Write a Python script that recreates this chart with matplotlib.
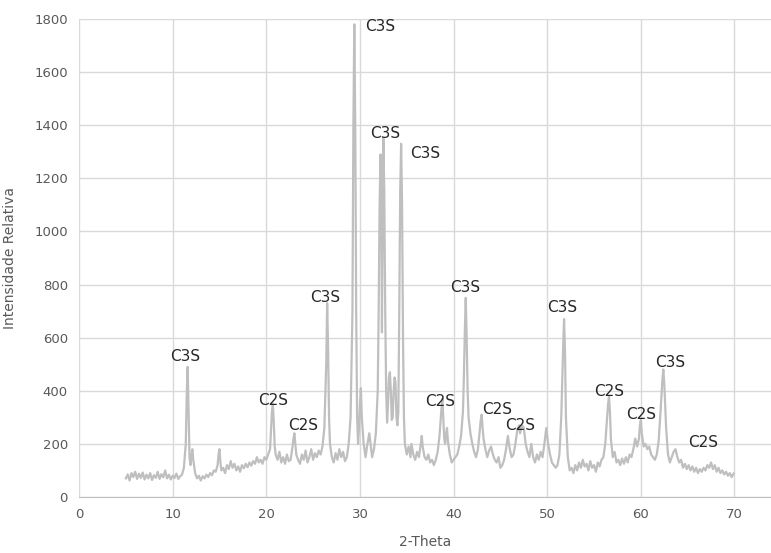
import matplotlib.pyplot as plt

# XRD pattern (2-theta vs relative intensity)
two_theta = [
    5.0, 5.2, 5.4, 5.6, 5.8, 6.0, 6.2, 6.4, 6.6, 6.8,
    7.0, 7.2, 7.4, 7.6, 7.8, 8.0, 8.2, 8.4, 8.6, 8.8,
    9.0, 9.2, 9.4, 9.6, 9.8, 10.0, 10.2, 10.4, 10.6, 10.8,
    11.0, 11.2, 11.4, 11.5, 11.6, 11.7, 11.8, 11.9, 12.0, 12.1,
    12.2, 12.4, 12.6, 12.8, 13.0, 13.2, 13.4, 13.6, 13.8, 14.0,
    14.2, 14.4, 14.6, 14.8, 14.9, 15.0, 15.1, 15.2, 15.4, 15.6,
    15.8, 16.0, 16.2, 16.4, 16.6, 16.8, 17.0, 17.2, 17.4, 17.6,
    17.8, 18.0, 18.2, 18.4, 18.6, 18.8, 19.0, 19.2, 19.4, 19.6,
    19.8, 20.0, 20.2, 20.4, 20.5, 20.6, 20.7, 20.8, 20.9, 21.0,
    21.2, 21.4, 21.6, 21.8, 22.0, 22.2, 22.4, 22.6, 22.8, 22.9,
    23.0, 23.1, 23.2, 23.4, 23.6, 23.8, 24.0, 24.2, 24.4, 24.6,
    24.8, 25.0, 25.2, 25.4, 25.6, 25.8, 26.0, 26.2, 26.4, 26.5,
    26.6, 26.7, 26.8, 27.0, 27.2, 27.4, 27.6, 27.8, 28.0, 28.2,
    28.4, 28.6, 28.8, 29.0, 29.2, 29.3, 29.4, 29.5, 29.6, 29.7,
    29.8, 29.9, 30.0, 30.1, 30.2, 30.4, 30.6, 30.8, 31.0, 31.1,
    31.3, 31.5, 31.7, 31.9, 32.0, 32.1, 32.2, 32.3, 32.35, 32.4,
    32.5, 32.6, 32.7, 32.8, 32.9, 33.0, 33.1, 33.2, 33.3, 33.4,
    33.5, 33.6, 33.7, 33.8, 33.9, 34.0, 34.1, 34.2, 34.3, 34.4,
    34.5, 34.6, 34.7, 34.8, 35.0, 35.2, 35.4, 35.5, 35.7, 35.9,
    36.1, 36.3, 36.5, 36.6, 36.7, 36.9, 37.1, 37.3, 37.5, 37.7,
    37.9, 38.1, 38.3, 38.5, 38.7, 38.8, 38.9, 39.0, 39.1, 39.2,
    39.3, 39.4, 39.6, 39.8, 40.0, 40.2, 40.4, 40.6, 40.8, 41.0,
    41.1, 41.2, 41.3, 41.4, 41.5, 41.6, 41.8, 42.0, 42.2, 42.4,
    42.6, 42.8, 42.9, 43.0, 43.1, 43.2, 43.4, 43.6, 43.8, 44.0,
    44.2, 44.4, 44.6, 44.8, 45.0, 45.2, 45.4, 45.6, 45.8, 46.0,
    46.2, 46.4, 46.6, 46.8, 47.0, 47.1, 47.3, 47.5, 47.7, 47.9,
    48.1, 48.3, 48.5, 48.7, 48.9, 49.1, 49.3, 49.5, 49.7, 49.9,
    50.1, 50.3, 50.5, 50.7, 50.9, 51.1, 51.3, 51.5, 51.7, 51.8,
    51.9, 52.0, 52.2, 52.4, 52.6, 52.8, 53.0, 53.2, 53.4, 53.6,
    53.8, 54.0, 54.2, 54.4, 54.6, 54.8, 55.0, 55.2, 55.4, 55.6,
    55.8, 56.0, 56.2, 56.4, 56.5, 56.6, 56.7, 56.8, 57.0, 57.2,
    57.4, 57.6, 57.8, 58.0, 58.2, 58.4, 58.6, 58.8, 59.0, 59.2,
    59.4, 59.6, 59.8, 59.9, 60.0, 60.1, 60.3, 60.5, 60.7, 60.9,
    61.1, 61.3, 61.5, 61.7, 61.9, 62.1, 62.3, 62.4, 62.5, 62.7,
    62.9, 63.1, 63.3, 63.5, 63.7, 63.9, 64.1, 64.3, 64.5, 64.7,
    64.9, 65.1, 65.3, 65.5, 65.7, 65.9, 66.1, 66.3, 66.5, 66.7,
    66.9, 67.1, 67.3, 67.5, 67.7, 67.9, 68.1, 68.3, 68.5, 68.7,
    68.9, 69.1, 69.3, 69.5, 69.7, 69.9,
]

intensity = [
    70, 85, 62, 90, 75, 95, 68, 88, 72, 92,
    66, 84, 70, 90, 64, 82, 72, 95, 68, 86,
    74, 100, 70, 84, 66, 80, 72, 88, 68, 78,
    84, 110, 200, 380, 490, 320, 150, 120, 150, 180,
    140, 90, 70, 80, 62, 78, 70, 84, 75, 90,
    82, 100, 95, 120, 160, 180, 130, 100, 110, 90,
    120, 105, 135, 110, 125, 100, 115, 95, 120, 108,
    125, 112, 130, 118, 135, 125, 150, 130, 140, 125,
    150, 140, 160, 180, 250, 320, 350, 280, 190, 160,
    140, 170, 130, 150, 125, 160, 135, 140, 190, 220,
    240, 200, 160, 140, 125, 160, 140, 175, 130, 150,
    180, 140, 165, 150, 175, 160, 190, 260, 500, 730,
    560, 300, 200, 150, 130, 165, 140, 180, 150, 170,
    135, 150, 200, 300, 700, 1400, 1780, 1400, 700, 300,
    200, 260, 350, 410, 300, 200, 150, 200, 240, 210,
    150, 180, 240, 400, 700, 1100, 1290, 1000, 620, 900,
    1350, 1150, 700, 400, 280, 350, 450, 470, 400, 290,
    300, 400, 450, 430, 300, 270, 320, 700, 1150, 1330,
    1100, 600, 300, 200, 160, 190, 150, 200, 160, 140,
    170, 150, 200, 230, 190, 150, 140, 160, 130, 140,
    120, 140, 170, 230, 330, 370, 300, 220, 200, 240,
    260, 210, 160, 130, 140, 150, 160, 190, 230, 320,
    450, 620, 750, 600, 400, 300, 240, 200, 170, 150,
    180, 250, 290, 310, 260, 220, 180, 150, 175, 190,
    160, 140, 130, 150, 110, 120, 140, 180, 230, 180,
    150, 160, 200, 250, 270, 240, 270, 260, 200, 170,
    150, 200, 150, 130, 160, 140, 170, 150, 200, 260,
    200, 160, 130, 120, 110, 120, 160, 300, 560, 670,
    550, 300, 150, 100, 110, 90, 120, 100, 130, 110,
    140, 115, 125, 100, 135, 110, 120, 95, 130, 115,
    140, 150, 200, 300, 350, 380, 320, 220, 150, 170,
    130, 140, 120, 145, 125, 150, 130, 160, 150, 180,
    220, 190, 220, 270, 290, 240, 190, 200, 180, 190,
    160, 150, 140, 160, 210, 320, 440, 480, 430, 260,
    160, 130, 150, 170, 180, 150, 130, 140, 110, 125,
    105, 120, 100, 115, 95, 110, 90, 105, 95, 110,
    100, 120, 110, 130, 105, 120, 95, 110, 90, 100,
    85, 95, 80, 90, 75, 88,
]

# phase labels placed over the peaks
label_text = ["C3S", "C2S", "C2S", "C3S", "C3S", "C3S", "C3S", "C2S",
              "C3S", "C2S", "C2S", "C3S", "C2S", "C2S", "C3S", "C2S"]
label_x = [11.3, 20.7, 23.9, 26.3, 32.2, 32.7, 37.0, 38.6,
           41.2, 44.7, 47.1, 51.6, 56.6, 60.0, 63.1, 66.6]
label_y = [530, 365, 271, 753, 1770, 1370, 1295, 358,
           790, 328, 271, 712, 399, 309, 508, 207]

x_ticks = [0, 10, 20, 30, 40, 50, 60, 70]
y_ticks = [0, 200, 400, 600, 800, 1000, 1200, 1400, 1600, 1800]

assert len(two_theta) == len(intensity)

fig = plt.figure(figsize=(7.71, 5.53), dpi=100)
ax = fig.add_axes([0.1025, 0.1013, 0.8975, 0.8643])

ax.plot(two_theta, intensity, color='#bfbfbf', linewidth=1.6)

for t, x, y in zip(label_text, label_x, label_y):
    ax.text(x, y, t, ha='center', va='center', fontsize=11, color='#262626')

ax.set_xlim(0, 73.9)
ax.set_ylim(0, 1800)
ax.set_xticks(x_ticks)
ax.set_yticks(y_ticks)
ax.grid(True, color='#d9d9d9', linewidth=1.0)
ax.set_axisbelow(True)

for side in ['top', 'right', 'left']:
    ax.spines[side].set_visible(False)
ax.spines['bottom'].set_color('#bfbfbf')

ax.tick_params(axis='both', length=0, labelsize=9.5, colors='#595959', pad=8)
ax.set_xlabel('2-Theta', fontsize=10, color='#595959', labelpad=10)
ax.set_ylabel('Intensidade Relativa', fontsize=10, color='#595959', labelpad=12)

fig.savefig('out.png', dpi=100)
